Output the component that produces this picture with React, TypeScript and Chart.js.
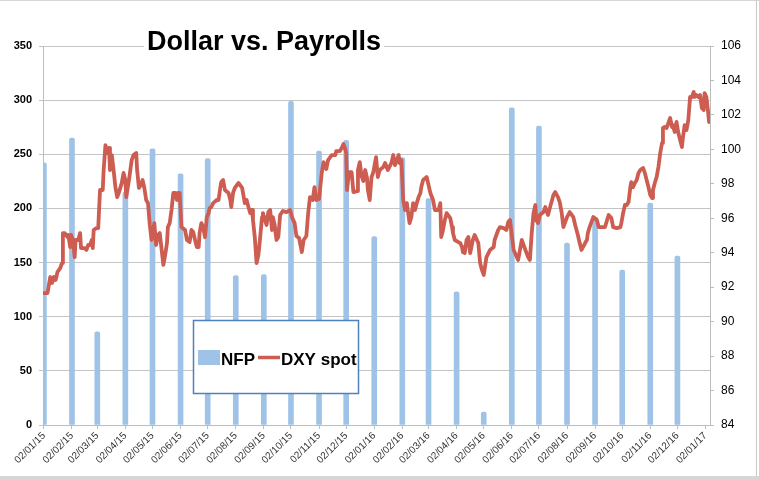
import { useEffect, useRef } from 'react';
import { Chart, registerables } from 'chart.js';

Chart.register(...registerables);

const chartTitle = 'Dollar vs. Payrolls';

const xTickLabels = [
  '02/01/15', '02/02/15', '02/03/15', '02/04/15', '02/05/15', '02/06/15', '02/07/15',
  '02/08/15', '02/09/15', '02/10/15', '02/11/15', '02/12/15', '02/01/16', '02/02/16',
  '02/03/16', '02/04/16', '02/05/16', '02/06/16', '02/07/16', '02/08/16', '02/09/16',
  '02/10/16', '02/11/16', '02/12/16', '02/01/17',
];

// NFP (left axis, thousands) plotted at the monthly dates
const nfpDates = [
  '02/01/15', '02/02/15', '02/03/15', '02/04/15', '02/05/15', '02/06/15', '02/07/15',
  '02/08/15', '02/09/15', '02/10/15', '02/11/15', '02/12/15', '02/01/16', '02/02/16',
  '02/03/16', '02/04/16', '02/05/16', '02/06/16', '02/07/16', '02/08/16', '02/09/16',
  '02/10/16', '02/11/16', '02/12/16',
];
const nfpValues = [
  242, 265, 86, 215, 255, 232, 246, 138, 139, 299, 253, 263, 174, 247, 209, 123, 12, 293,
  276, 168, 192, 143, 205, 156,
];

// DXY spot (right axis): days since 02/01/2015 and index level
const dxyDays = [
  0, 4, 7, 9, 11, 13, 15, 18, 20, 21, 23, 26, 27, 29, 30, 32, 34, 35, 38, 40, 41, 45, 47, 49,
  51, 53, 54, 55, 58, 60, 62, 65, 66, 68, 70, 72, 73, 75, 77, 79, 81, 83, 86, 88, 90, 91, 94,
  97, 99, 102, 103, 105, 107, 109, 111, 113, 115, 117, 119, 122, 124, 126, 128, 132, 134, 136,
  137, 139, 141, 143, 145, 147, 148, 150, 152, 156, 158, 161, 163, 165, 167, 169, 171, 172,
  174, 176, 178, 180, 182, 183, 185, 187, 191, 193, 195, 196, 198, 200, 204, 206, 207, 209,
  211, 215, 219, 220, 222, 224, 226, 228, 230, 231, 233, 235, 237, 239, 241, 242, 246, 248,
  250, 252, 253, 255, 257, 259, 261, 264, 268, 272, 274, 277, 279, 282, 285, 287, 290, 292,
  294, 297, 299, 301, 304, 307, 309, 312, 314, 318, 322, 323, 327, 329, 331, 333, 334, 335,
  337, 340, 342, 346, 347, 349, 351, 353, 355, 357, 358, 360, 362, 364, 367, 369, 371, 375,
  377, 380, 384, 386, 388, 390, 392, 393, 395, 397, 399, 401, 404, 406, 408, 410, 412, 414,
  416, 417, 419, 423, 427, 430, 432, 436, 438, 439, 441, 443, 445, 449, 451, 452, 454, 458,
  460, 462, 463, 465, 467, 469, 471, 474, 476, 480, 482, 484, 486, 489, 493, 497, 498, 502,
  504, 508, 511, 513, 515, 519, 524, 526, 528, 532, 535, 537, 539, 541, 543, 544, 546, 548,
  552, 554, 557, 559, 563, 565, 568, 570, 572, 574, 578, 581, 585, 587, 590, 592, 594, 598,
  600, 601, 603, 607, 611, 613, 620, 624, 627, 629, 633, 637, 638, 640, 642, 644, 646, 648,
  649, 651, 653, 655, 657, 659, 662, 664, 666, 668, 670, 672, 673, 675, 677, 679, 681, 683,
  684, 686, 688, 690, 692, 694, 695, 697, 699, 701, 703, 705, 706, 708, 710, 712, 714, 716,
  718, 719, 721, 723, 725, 727, 729, 730, 732, 734, 735,
];
const dxyValues = [
  91.66, 91.66, 92.59, 92.24, 92.59, 92.42, 92.88, 93.11, 93.4, 95.14, 95.14, 94.91, 95.03,
  94.33, 95.03, 94.74, 93.75, 94.74, 94.74, 95.14, 94.27, 94.27, 94.16, 94.45, 94.45, 94.74,
  94.27, 95.32, 95.43, 95.43, 97.64, 97.64, 98.8, 100.25, 99.79, 100.08, 98.8, 99.67, 98.8,
  97.81, 97.23, 97.52, 98.05, 98.63, 98.22, 97.23, 98.22, 99.38, 99.67, 99.79, 98.8, 97.76,
  97.93, 98.22, 97.76, 97.06, 96.88, 95.61, 94.74, 95.72, 94.45, 95.03, 95.14, 93.29, 93.87,
  94.56, 95.49, 95.72, 96.48, 97.47, 97.47, 97.06, 97.47, 97.47, 95.49, 95.32, 94.74, 94.62,
  95.32, 95.2, 94.74, 94.33, 94.33, 95.14, 95.72, 95.49, 94.91, 96.07, 96.3, 96.59, 96.65,
  96.88, 97.06, 97.06, 97.81, 98.1, 98.22, 97.64, 97.47, 97.06, 96.65, 97.47, 97.76, 98.05,
  97.76, 97.47, 96.88, 97.06, 96.65, 96.3, 96.48, 95.9, 94.91, 93.4, 93.87, 94.91, 96.07,
  96.3, 95.61, 96.36, 96.48, 95.32, 96.07, 95.61, 94.74, 94.91, 96.19, 96.42, 96.36, 96.48,
  96.07, 95.72, 94.97, 94.85, 94.04, 94.74, 94.97, 96.3, 97.23, 97.06, 97.81, 97.06, 97.12,
  98.63, 99.26, 98.86, 99.38, 99.67, 99.67, 99.9, 99.9, 100.08, 100.31, 100.02, 99.79, 97.64,
  98.68, 98.68, 97.52, 97.58, 98.8, 99.26, 98.45, 98.16, 98.8, 98.34, 97.64, 97.06, 98.39,
  98.68, 99.55, 98.39, 98.8, 98.97, 99.21, 98.8, 99.21, 99.67, 99.09, 99.38, 99.67, 99.21,
  99.38, 97.06, 96.48, 96.88, 95.72, 96.07, 96.88, 96.48, 96.88, 97.23, 97.47, 97.81, 98.22,
  98.39, 97.47, 97.06, 96.48, 96.48, 96.88, 94.91, 95.32, 95.9, 96.3, 96.01, 95.49, 95.14,
  94.74, 94.62, 94.56, 94.33, 94.04, 93.98, 94.74, 94.91, 93.98, 94.74, 95.03, 94.56, 93.4,
  93.0, 92.71, 93.75, 94.16, 94.33, 94.74, 95.32, 95.49, 95.43, 95.32, 95.78, 95.9, 94.16,
  93.58, 94.16, 94.74, 94.16, 93.75, 93.58, 95.14, 96.3, 96.77, 95.9, 95.72, 96.19, 96.36,
  96.65, 96.19, 96.59, 97.35, 97.52, 97.23, 96.94, 96.36, 95.49, 96.07, 96.36, 96.07, 95.61,
  95.03, 94.56, 94.16, 94.56, 94.74, 95.14, 95.49, 96.07, 95.9, 95.49, 95.49, 96.19, 96.01,
  95.49, 95.43, 95.49, 95.72, 96.3, 96.77, 96.77, 96.94, 97.81, 98.1, 97.81, 98.05, 98.22,
  98.63, 98.8, 98.92, 98.63, 98.22, 97.81, 97.35, 97.17, 97.64, 98.05, 98.39, 98.97, 99.79,
  100.37, 101.24, 101.3, 101.24, 101.53, 101.82, 101.3, 101.41, 101.01, 101.59, 100.95,
  100.54, 100.13, 100.66, 101.41, 101.12, 101.7, 103.04, 103.04, 103.33, 103.04, 103.15,
  103.04, 103.15, 102.4, 102.28, 103.27, 103.04, 102.11, 101.59,
];

const seriesNames = ['NFP', 'DXY spot'];
const barColor = '#9fc3e7';
const lineColor = '#cd5c51';
const gridColor = '#c4c4c4';
const axisColor = '#bdbdbd';
const FONT = '"Liberation Sans", Arial, sans-serif';

function dayOf(label: string): number {
  const [d, m, y] = label.split('/').map(Number);
  return Math.round((Date.UTC(2000 + y, m - 1, d) - Date.UTC(2015, 0, 2)) / 86400000);
}
const xTickDays = xTickLabels.map(dayOf);

const framePlugin = {
  id: 'frame',
  beforeDraw(chart: any) {
    const { ctx, width, height } = chart;
    ctx.save();
    ctx.fillStyle = '#ffffff';
    ctx.fillRect(0, 0, width, height);
    ctx.fillStyle = '#d6d6d6';
    ctx.fillRect(0, 476, width, 4);
    ctx.fillRect(0, 0, width, 1);
    ctx.fillStyle = '#c8c8c8';
    ctx.fillRect(756, 0, 1, 476);
    ctx.restore();
  },
};

const overlayPlugin = {
  id: 'overlay',
  afterDraw(chart: any) {
    const { ctx } = chart;
    ctx.save();
    // title
    ctx.font = `bold 27px ${FONT}`;
    const tw = ctx.measureText(chartTitle).width;
    ctx.fillStyle = '#ffffff';
    ctx.fillRect(144, 30, tw + 6, 24);
    ctx.fillStyle = '#000000';
    ctx.textBaseline = 'alphabetic';
    ctx.textAlign = 'left';
    ctx.fillText(chartTitle, 147, 50);

    // legend
    ctx.fillStyle = '#ffffff';
    ctx.fillRect(193, 320, 165, 73);
    ctx.strokeStyle = '#4f81bd';
    ctx.lineWidth = 1.5;
    ctx.strokeRect(193.5, 320.5, 165, 73);
    ctx.fillStyle = barColor;
    ctx.fillRect(198, 350, 22, 15);
    ctx.strokeStyle = lineColor;
    ctx.lineWidth = 3.5;
    ctx.beginPath();
    ctx.moveTo(258, 357.5);
    ctx.lineTo(280, 357.5);
    ctx.stroke();
    ctx.font = `bold 17px ${FONT}`;
    ctx.fillStyle = '#000000';
    ctx.fillText(seriesNames[0], 221, 365);
    ctx.fillText(seriesNames[1], 281, 365);
    ctx.restore();
  },
};

export default function App() {
  const ref = useRef<HTMLCanvasElement>(null);

  useEffect(() => {
    if (!ref.current) return;
    Chart.defaults.font.family = FONT;
    const chart = new Chart(ref.current, {
      type: 'bar',
      data: {
        datasets: [
          {
            type: 'bar',
            label: seriesNames[0],
            data: nfpDates.map((d, i) => ({ x: dayOf(d), y: nfpValues[i] })),
            backgroundColor: barColor,
            barThickness: 5,
            borderRadius: 2,
            borderSkipped: 'start',
            yAxisID: 'y',
            xAxisID: 'x',
            order: 2,
          } as any,
          {
            type: 'line',
            label: seriesNames[1],
            data: dxyDays.map((d, i) => ({ x: d, y: dxyValues[i] })),
            borderColor: lineColor,
            backgroundColor: lineColor,
            borderWidth: 3.8,
            pointRadius: 0,
            tension: 0,
            borderJoinStyle: 'round',
            borderCapStyle: 'round',
            yAxisID: 'y1',
            xAxisID: 'x',
            order: 1,
          } as any,
        ],
      },
      options: {
        responsive: false,
        animation: false,
        devicePixelRatio: 1,
        layout: { padding: { top: 46, left: 0, right: 0, bottom: 0 } },
        plugins: {
          legend: { display: false },
          tooltip: { enabled: false },
          title: { display: false },
        },
        scales: {
          x: {
            type: 'linear',
            min: -1,
            max: 736,
            offset: false,
            afterBuildTicks: (s: any) => {
              s.ticks = xTickDays.map((v) => ({ value: v }));
            },
            afterFit: (s: any) => {
              s.height = 55;
            },
            ticks: {
              autoSkip: false,
              minRotation: 45,
              maxRotation: 45,
              padding: 1,
              color: '#333333',
              font: { size: 10 },
              callback: (_v: any, i: number) => xTickLabels[i],
            },
            grid: {
              drawOnChartArea: false,
              drawTicks: true,
              tickLength: 4,
              color: axisColor,
              offset: false,
            },
            border: { color: axisColor, width: 1 },
          },
          y: {
            position: 'left',
            min: 0,
            max: 350,
            afterFit: (s: any) => {
              s.width = 43;
            },
            ticks: {
              stepSize: 50,
              color: '#000000',
              padding: 7,
              font: { size: 11, weight: 'bold' },
            },
            grid: { color: gridColor, lineWidth: 1, tickLength: 4 },
            border: { color: axisColor, width: 1 },
          },
          y1: {
            position: 'right',
            min: 84,
            max: 106,
            afterFit: (s: any) => {
              s.width = 49;
            },
            ticks: {
              stepSize: 2,
              color: '#000000',
              padding: 7,
              font: { size: 12 },
            },
            grid: { drawOnChartArea: false, tickLength: 4, color: axisColor },
            border: { color: axisColor, width: 1 },
          },
        },
      } as any,
      plugins: [framePlugin, overlayPlugin],
    });
    return () => chart.destroy();
  }, []);

  return (
    <div style={{ position: 'absolute', left: 0, top: 0, width: 759, height: 480, background: '#fff' }}>
      <canvas ref={ref} width={759} height={480} style={{ display: 'block', width: 759, height: 480 }} />
    </div>
  );
}
